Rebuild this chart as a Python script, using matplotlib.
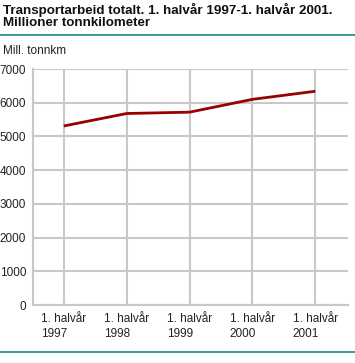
import matplotlib
matplotlib.use("Agg")
import matplotlib.pyplot as plt
from matplotlib.lines import Line2D

categories = ["1. halvår\n1997", "1. halvår\n1998", "1. halvår\n1999", "1. halvår\n2000", "1. halvår\n2001"]
values = [5310, 5680, 5720, 6100, 6340]
yticks = [0, 1000, 2000, 3000, 4000, 5000, 6000, 7000]

W, H = 355, 363
plt.rcParams['font.family'] = ['Liberation Sans', 'DejaVu Sans']
fig = plt.figure(figsize=(W / 100, H / 100), dpi=100)

grid_c = "#c8c8c8"
teal = "#1a8a8c"
red = "#990000"

ax = fig.add_axes([33 / W, 1 - 305 / H, (348 - 33) / W, (305 - 69) / H])
x = list(range(len(categories)))
ax.plot(x, values, color=red, lw=2, solid_capstyle="butt", zorder=3)
ax.set_xlim(-0.49, 4.52)
ax.set_ylim(0, 7000)
ax.set_yticks(yticks)
ax.set_yticklabels([str(v) for v in yticks], fontsize=8.5, color="#222222")
ax.set_xticks(x)
ax.set_xticklabels(categories, fontsize=8.5, color="#222222", ha="center", multialignment="left", linespacing=1.35)
ax.tick_params(axis="y", length=0, pad=5)
ax.tick_params(axis="x", length=0, pad=6)
ax.grid(True, color=grid_c, lw=1.5)
ax.set_axisbelow(True)
for s in ["top", "right"]:
    ax.spines[s].set_visible(False)
for s in ["left", "bottom"]:
    ax.spines[s].set_color(grid_c)
    ax.spines[s].set_linewidth(1.5)

fig.text(3 / W, 1 - 2.5 / H, "Transportarbeid totalt. 1. halvår 1997-1. halvår 2001.\nMillioner tonnkilometer",
         fontsize=9.6, fontweight="bold", va="top", ha="left", linespacing=1.05, color="#111111")
fig.add_artist(Line2D([0, 1], [1 - 34.5 / H, 1 - 34.5 / H], color=teal, lw=1.2, transform=fig.transFigure))
fig.add_artist(Line2D([0, 1], [1 - 352 / H, 1 - 352 / H], color=teal, lw=1.2, transform=fig.transFigure))
fig.text(3 / W, 1 - 51 / H, "Mill. tonnkm", fontsize=8.5, va="center", ha="left", color="#222222")

fig.savefig("out.png", dpi=100)
